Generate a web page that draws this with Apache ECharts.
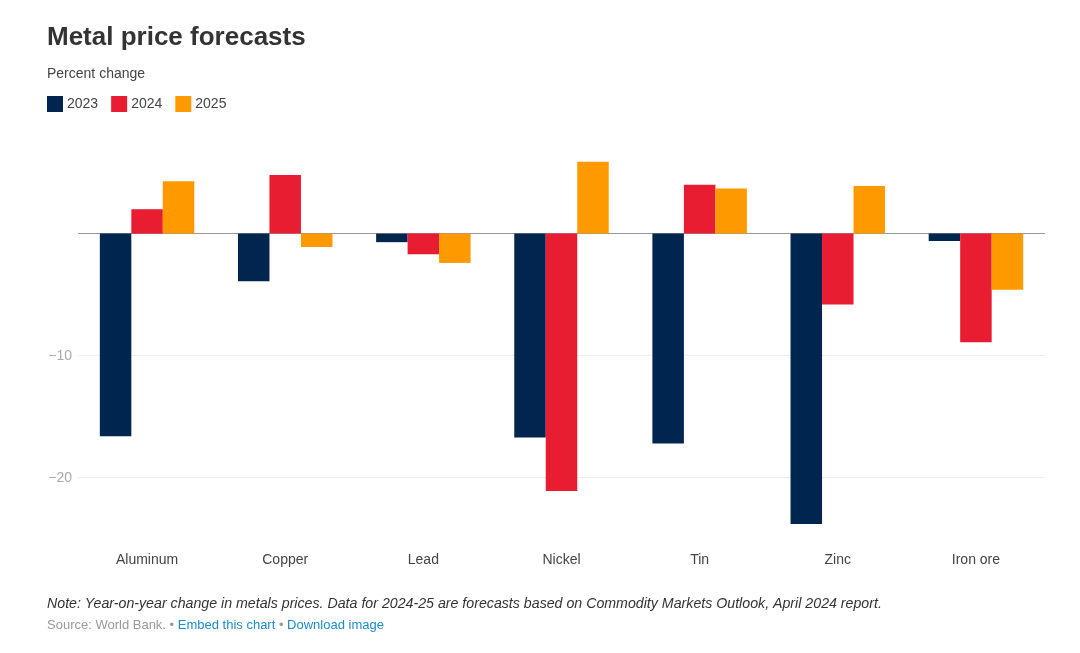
<!DOCTYPE html>
<html><head><meta charset="utf-8">
<script src="https://cdn.jsdelivr.net/npm/echarts@6/dist/echarts.min.js"></script>
<style>html,body{margin:0;padding:0;background:#fff}#c{width:1080px;height:653px}</style>
</head><body><div id="c"></div>
<script>
const categories = ['Aluminum','Copper','Lead','Nickel','Tin','Zinc','Iron ore'];
const years = ['2023','2024','2025'];
const v2023 = [-16.6, -3.9, -0.7, -16.7, -17.2, -23.8, -0.6];
const v2024 = [2.0, 4.8, -1.7, -21.1, 4.0, -5.8, -8.9];
const v2025 = [4.3, -1.1, -2.4, 5.9, 3.7, 3.9, -4.6];
const gridValues = [-10, -20];
const colors = ['#00264f', '#e81d31', '#ff9900'];

const chart = echarts.init(document.getElementById('c'));
const font = 'Liberation Sans, Arial, sans-serif';
const seriesVals = [v2023, v2024, v2025];
const series = years.map((y, i) => ({
  name: y, type: 'bar', data: seriesVals[i], barGap: '0%', barCategoryGap: '31.6%',
  itemStyle: {color: colors[i]}, z: 2,
  markLine: i === 0 ? {
    silent: true, symbol: 'none', label: {show: false}, animation: false,
    data: gridValues.map(g => ({yAxis: g, lineStyle: {color: '#eeeeee', width: 1, type: 'solid'}}))
      .concat([{yAxis: 0, lineStyle: {color: '#999999', width: 1, type: 'solid'}}]),
    z: 1
  } : undefined
}));
chart.setOption({
  animation: false,
  textStyle: {fontFamily: font},
  title: [
    {text: 'Metal price forecasts', left: 42, top: 20, textStyle: {fontSize: 26, fontWeight: 'bold', color: '#333', fontFamily: font}},
    {text: 'Percent change', left: 42, top: 62, textStyle: {fontSize: 14, fontWeight: 'normal', color: '#444', fontFamily: font}}
  ],
  legend: {
    left: 42, top: 91, icon: 'rect', itemWidth: 16, itemHeight: 16, itemGap: 13,
    textStyle: {fontSize: 14, color: '#444', fontFamily: font, padding: [0, 0, 0, -1]},
    data: years
  },
  grid: {left: 78, right: 35, top: 136, bottom: 114.3},
  xAxis: {
    type: 'category', data: categories,
    axisLine: {show: false, onZero: false}, axisTick: {show: false},
    axisLabel: {fontSize: 14, color: '#444', margin: 14, fontFamily: font}
  },
  yAxis: {
    type: 'value', min: -25, max: 8, interval: 5,
    splitLine: {show: false}, axisLine: {show: false}, axisTick: {show: false},
    axisLabel: {fontSize: 14, color: '#aaa', margin: 6, fontFamily: font,
      formatter: v => gridValues.indexOf(v) >= 0 ? '\u2212' + Math.abs(v) : ''}
  },
  graphic: [
    {type: 'text', left: 47, top: 597, style: {text: 'Note: Year-on-year change in metals prices. Data for 2024-25 are forecasts based on Commodity Markets Outlook, April 2024 report.', fontSize: 14.2, fontStyle: 'italic', fill: '#333', fontFamily: font}},
    {type: 'text', left: 47, top: 619, style: {
      text: '{g|Source: World Bank. • }{b|Embed this chart}{g| • }{b|Download image}',
      fontSize: 13, fontFamily: font,
      rich: {g: {fill: '#999', fontSize: 13, fontFamily: font}, b: {fill: '#1a8ccb', fontSize: 13, fontFamily: font}}
    }}
  ],
  series: series
});
</script></body></html>
